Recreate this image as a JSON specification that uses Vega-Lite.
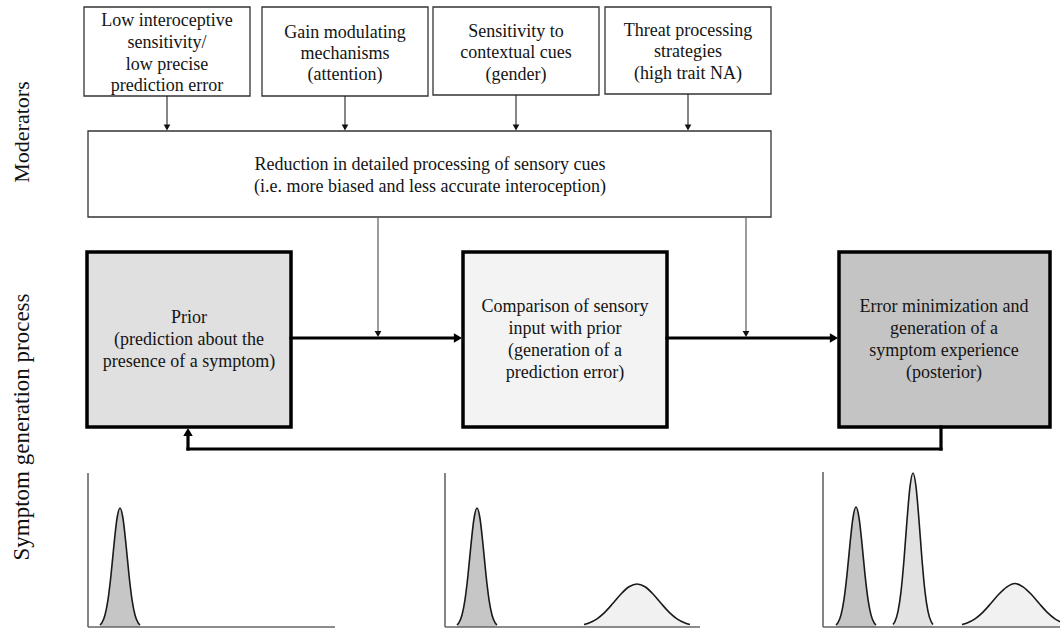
{
  "$schema": "https://vega.github.io/schema/vega-lite/v6.json",
  "width": 1060,
  "height": 629,
  "padding": 0,
  "autosize": {"type": "none"},
  "background": "white",
  "view": {"stroke": null},
  "config": {"mark": {"font": "Liberation Serif"}, "text": {"font": "Liberation Serif"}},
  "datasets": {
    "processBoxes": [
      {"name": "prior", "x": 87, "y": 252, "x2": 291, "y2": 427},
      {"name": "comparison", "x": 463, "y": 252, "x2": 667, "y2": 427},
      {"name": "posterior", "x": 839, "y": 252, "x2": 1050, "y2": 427}
    ],
    "moderatorBoxes": [
      {"name": "m1", "x": 84, "y": 7, "x2": 250, "y2": 96},
      {"name": "m2", "x": 262, "y": 7, "x2": 428, "y2": 96},
      {"name": "m3", "x": 433, "y": 7, "x2": 599, "y2": 95},
      {"name": "m4", "x": 605, "y": 7, "x2": 771, "y2": 94},
      {"name": "reduction", "x": 88, "y": 131, "x2": 771, "y2": 217}
    ],
    "curves": [
      {"curve": "p1", "name": "prior curve", "x": 100, "y": 625},
      {"curve": "p1", "name": "prior curve", "x": 102, "y": 622.6},
      {"curve": "p1", "name": "prior curve", "x": 105, "y": 615},
      {"curve": "p1", "name": "prior curve", "x": 108, "y": 599.6},
      {"curve": "p1", "name": "prior curve", "x": 111, "y": 575},
      {"curve": "p1", "name": "prior curve", "x": 114, "y": 544.5},
      {"curve": "p1", "name": "prior curve", "x": 117, "y": 518.5},
      {"curve": "p1", "name": "prior curve", "x": 120, "y": 508},
      {"curve": "p1", "name": "prior curve", "x": 123, "y": 518.5},
      {"curve": "p1", "name": "prior curve", "x": 126, "y": 544.5},
      {"curve": "p1", "name": "prior curve", "x": 129, "y": 575},
      {"curve": "p1", "name": "prior curve", "x": 132, "y": 599.6},
      {"curve": "p1", "name": "prior curve", "x": 135, "y": 615},
      {"curve": "p1", "name": "prior curve", "x": 138, "y": 622.6},
      {"curve": "p1", "name": "prior curve", "x": 140, "y": 625},
      {"curve": "p2", "name": "prior curve", "x": 457, "y": 625},
      {"curve": "p2", "name": "prior curve", "x": 459, "y": 622.6},
      {"curve": "p2", "name": "prior curve", "x": 462, "y": 615},
      {"curve": "p2", "name": "prior curve", "x": 465, "y": 599.6},
      {"curve": "p2", "name": "prior curve", "x": 468, "y": 575},
      {"curve": "p2", "name": "prior curve", "x": 471, "y": 544.5},
      {"curve": "p2", "name": "prior curve", "x": 474, "y": 518.5},
      {"curve": "p2", "name": "prior curve", "x": 477, "y": 508},
      {"curve": "p2", "name": "prior curve", "x": 480, "y": 518.5},
      {"curve": "p2", "name": "prior curve", "x": 483, "y": 544.5},
      {"curve": "p2", "name": "prior curve", "x": 486, "y": 575},
      {"curve": "p2", "name": "prior curve", "x": 489, "y": 599.6},
      {"curve": "p2", "name": "prior curve", "x": 492, "y": 615},
      {"curve": "p2", "name": "prior curve", "x": 495, "y": 622.6},
      {"curve": "p2", "name": "prior curve", "x": 497, "y": 625},
      {"curve": "p3", "name": "prior curve", "x": 836, "y": 625},
      {"curve": "p3", "name": "prior curve", "x": 838, "y": 622.6},
      {"curve": "p3", "name": "prior curve", "x": 841, "y": 614.9},
      {"curve": "p3", "name": "prior curve", "x": 844, "y": 599.4},
      {"curve": "p3", "name": "prior curve", "x": 847, "y": 574.6},
      {"curve": "p3", "name": "prior curve", "x": 850, "y": 543.8},
      {"curve": "p3", "name": "prior curve", "x": 853, "y": 517.6},
      {"curve": "p3", "name": "prior curve", "x": 856, "y": 507},
      {"curve": "p3", "name": "prior curve", "x": 859, "y": 517.6},
      {"curve": "p3", "name": "prior curve", "x": 862, "y": 543.8},
      {"curve": "p3", "name": "prior curve", "x": 865, "y": 574.6},
      {"curve": "p3", "name": "prior curve", "x": 868, "y": 599.4},
      {"curve": "p3", "name": "prior curve", "x": 871, "y": 614.9},
      {"curve": "p3", "name": "prior curve", "x": 874, "y": 622.6},
      {"curve": "p3", "name": "prior curve", "x": 876, "y": 625},
      {"curve": "t3", "name": "posterior curve", "x": 893, "y": 624.4},
      {"curve": "t3", "name": "posterior curve", "x": 895, "y": 621.3},
      {"curve": "t3", "name": "posterior curve", "x": 898, "y": 611.4},
      {"curve": "t3", "name": "posterior curve", "x": 901, "y": 591.6},
      {"curve": "t3", "name": "posterior curve", "x": 904, "y": 559.7},
      {"curve": "t3", "name": "posterior curve", "x": 907, "y": 520.3},
      {"curve": "t3", "name": "posterior curve", "x": 910, "y": 486.6},
      {"curve": "t3", "name": "posterior curve", "x": 913, "y": 473},
      {"curve": "t3", "name": "posterior curve", "x": 916, "y": 486.6},
      {"curve": "t3", "name": "posterior curve", "x": 919, "y": 520.3},
      {"curve": "t3", "name": "posterior curve", "x": 922, "y": 559.7},
      {"curve": "t3", "name": "posterior curve", "x": 925, "y": 591.6},
      {"curve": "t3", "name": "posterior curve", "x": 928, "y": 611.4},
      {"curve": "t3", "name": "posterior curve", "x": 931, "y": 621.3},
      {"curve": "t3", "name": "posterior curve", "x": 933, "y": 624.4},
      {"curve": "w2", "name": "input curve", "x": 584, "y": 624.6},
      {"curve": "w2", "name": "input curve", "x": 589, "y": 623},
      {"curve": "w2", "name": "input curve", "x": 597, "y": 618.8},
      {"curve": "w2", "name": "input curve", "x": 605, "y": 612.1},
      {"curve": "w2", "name": "input curve", "x": 613, "y": 603.3},
      {"curve": "w2", "name": "input curve", "x": 621, "y": 594},
      {"curve": "w2", "name": "input curve", "x": 629, "y": 586.8},
      {"curve": "w2", "name": "input curve", "x": 637, "y": 584},
      {"curve": "w2", "name": "input curve", "x": 645, "y": 586.8},
      {"curve": "w2", "name": "input curve", "x": 653, "y": 594},
      {"curve": "w2", "name": "input curve", "x": 661, "y": 603.3},
      {"curve": "w2", "name": "input curve", "x": 669, "y": 612.1},
      {"curve": "w2", "name": "input curve", "x": 677, "y": 618.8},
      {"curve": "w2", "name": "input curve", "x": 685, "y": 623},
      {"curve": "w2", "name": "input curve", "x": 690, "y": 624.6},
      {"curve": "w3", "name": "input curve", "x": 962, "y": 624.6},
      {"curve": "w3", "name": "input curve", "x": 967, "y": 623},
      {"curve": "w3", "name": "input curve", "x": 975, "y": 618.8},
      {"curve": "w3", "name": "input curve", "x": 983, "y": 612.1},
      {"curve": "w3", "name": "input curve", "x": 991, "y": 603.3},
      {"curve": "w3", "name": "input curve", "x": 999, "y": 594},
      {"curve": "w3", "name": "input curve", "x": 1007, "y": 586.8},
      {"curve": "w3", "name": "input curve", "x": 1015, "y": 583.5},
      {"curve": "w3", "name": "input curve", "x": 1023, "y": 586.8},
      {"curve": "w3", "name": "input curve", "x": 1031, "y": 594},
      {"curve": "w3", "name": "input curve", "x": 1039, "y": 603.3},
      {"curve": "w3", "name": "input curve", "x": 1047, "y": 612.1},
      {"curve": "w3", "name": "input curve", "x": 1055, "y": 618.8},
      {"curve": "w3", "name": "input curve", "x": 1060, "y": 621.7}
    ],
    "panelAxes": [
      {"x": 88, "y": 473, "x2": 88, "y2": 627},
      {"x": 88, "y": 627, "x2": 335, "y2": 627},
      {"x": 445, "y": 473, "x2": 445, "y2": 627},
      {"x": 445, "y": 627, "x2": 700, "y2": 627},
      {"x": 823, "y": 472, "x2": 823, "y2": 627},
      {"x": 823, "y": 627, "x2": 1060, "y2": 627}
    ],
    "thinLinks": [
      {"x": 167, "y": 96, "x2": 167, "y2": 126},
      {"x": 345, "y": 96, "x2": 345, "y2": 126},
      {"x": 516, "y": 95, "x2": 516, "y2": 126},
      {"x": 688, "y": 94, "x2": 688, "y2": 126}
    ],
    "grayLinks": [
      {"x": 378, "y": 217, "x2": 378, "y2": 332},
      {"x": 746, "y": 217, "x2": 746, "y2": 332}
    ],
    "thickLinks": [
      {"x": 291, "y": 338, "x2": 457, "y2": 338},
      {"x": 667, "y": 338, "x2": 833, "y2": 338},
      {"x": 941, "y": 427, "x2": 941, "y2": 449},
      {"x": 188, "y": 449, "x2": 941, "y2": 449},
      {"x": 188, "y": 434, "x2": 188, "y2": 449}
    ],
    "smallHeads": [
      {"x": 167, "y": 127.5, "dir": "down"},
      {"x": 345, "y": 127.5, "dir": "down"},
      {"x": 516, "y": 127.5, "dir": "down"},
      {"x": 688, "y": 127.5, "dir": "down"},
      {"x": 378, "y": 334, "dir": "down"},
      {"x": 746, "y": 334, "dir": "down"}
    ],
    "bigHeads": [
      {"x": 458, "y": 338, "dir": "right"},
      {"x": 834, "y": 338, "dir": "right"},
      {"x": 188, "y": 432, "dir": "up"}
    ],
    "boxText": [
      {"x": 167, "y": 21, "t": "Low interoceptive"},
      {"x": 167, "y": 43, "t": "sensitivity/"},
      {"x": 167, "y": 65, "t": "low precise"},
      {"x": 167, "y": 86, "t": "prediction error"},
      {"x": 345, "y": 33, "t": "Gain modulating"},
      {"x": 345, "y": 54, "t": "mechanisms"},
      {"x": 345, "y": 75, "t": "(attention)"},
      {"x": 516, "y": 32, "t": "Sensitivity to"},
      {"x": 516, "y": 53, "t": "contextual cues"},
      {"x": 516, "y": 75, "t": "(gender)"},
      {"x": 688, "y": 31, "t": "Threat processing"},
      {"x": 688, "y": 52, "t": "strategies"},
      {"x": 688, "y": 74, "t": "(high trait NA)"},
      {"x": 430, "y": 165, "t": "Reduction in detailed processing of sensory cues"},
      {"x": 430, "y": 187, "t": "(i.e. more biased and less accurate interoception)"},
      {"x": 189, "y": 318, "t": "Prior"},
      {"x": 189, "y": 340, "t": "(prediction about the"},
      {"x": 189, "y": 362, "t": "presence of a symptom)"},
      {"x": 565, "y": 307, "t": "Comparison of sensory"},
      {"x": 565, "y": 329, "t": "input with prior"},
      {"x": 565, "y": 351, "t": "(generation of a"},
      {"x": 565, "y": 373, "t": "prediction error)"},
      {"x": 944, "y": 307, "t": "Error minimization and"},
      {"x": 944, "y": 329, "t": "generation of a"},
      {"x": 944, "y": 351, "t": "symptom experience"},
      {"x": 944, "y": 373, "t": "(posterior)"}
    ],
    "topRowLabel": [
      {"x": 22, "y": 132, "t": "Moderators"}
    ],
    "bottomRowLabel": [
      {"x": 22, "y": 427, "t": "Symptom generation process"}
    ]
  },
  "encoding": {
    "x": {"field": "x", "type": "quantitative", "scale": {"domain": [0, 1060], "nice": false, "zero": false}, "axis": null},
    "y": {"field": "y", "type": "quantitative", "scale": {"domain": [0, 629], "nice": false, "zero": false, "reverse": true}, "axis": null}
  },
  "layer": [
    {
      "data": {"name": "processBoxes"},
      "mark": {"type": "rect", "stroke": "#000000", "strokeWidth": 3.5},
      "encoding": {
        "x2": {"field": "x2"},
        "y2": {"field": "y2"},
        "fill": {"field": "name", "type": "nominal", "scale": {"domain": ["prior", "comparison", "posterior", "prior curve", "input curve", "posterior curve"], "range": ["#e0e0e0", "#f3f3f3", "#c4c4c4", "#c6c6c6", "#f1f1f1", "#e2e2e2"]}, "legend": null}
      }
    },
    {
      "data": {"name": "moderatorBoxes"},
      "mark": {"type": "rect", "stroke": "#333333", "strokeWidth": 1.3, "fill": "#ffffff"},
      "encoding": {"x2": {"field": "x2"}, "y2": {"field": "y2"}}
    },
    {
      "data": {"name": "curves"},
      "mark": {"type": "area", "interpolate": "monotone", "opacity": 1},
      "encoding": {
        "y": {"field": "y", "type": "quantitative", "stack": null, "scale": {"domain": [0, 629], "nice": false, "zero": false, "reverse": true}, "axis": null},
        "y2": {"datum": 627},
        "detail": {"field": "curve"},
        "fill": {"field": "name", "type": "nominal", "scale": {"domain": ["prior", "comparison", "posterior", "prior curve", "input curve", "posterior curve"], "range": ["#e0e0e0", "#f3f3f3", "#c4c4c4", "#c6c6c6", "#f1f1f1", "#e2e2e2"]}, "legend": null}
      }
    },
    {
      "data": {"name": "curves"},
      "mark": {"type": "line", "interpolate": "monotone", "stroke": "#1a1a1a", "strokeWidth": 1.6},
      "encoding": {"detail": {"field": "curve"}}
    },
    {
      "data": {"name": "panelAxes"},
      "mark": {"type": "rule", "stroke": "#666666", "strokeWidth": 1.6},
      "encoding": {"x2": {"field": "x2"}, "y2": {"field": "y2"}}
    },
    {
      "data": {"name": "thinLinks"},
      "mark": {"type": "rule", "stroke": "#222222", "strokeWidth": 1.1},
      "encoding": {"x2": {"field": "x2"}, "y2": {"field": "y2"}}
    },
    {
      "data": {"name": "grayLinks"},
      "mark": {"type": "rule", "stroke": "#666666", "strokeWidth": 1.3},
      "encoding": {"x2": {"field": "x2"}, "y2": {"field": "y2"}}
    },
    {
      "data": {"name": "thickLinks"},
      "mark": {"type": "rule", "stroke": "#000000", "strokeWidth": 3.2, "strokeCap": "square"},
      "encoding": {"x2": {"field": "x2"}, "y2": {"field": "y2"}}
    },
    {
      "data": {"name": "smallHeads"},
      "mark": {"type": "point", "filled": true, "color": "#111111", "size": 45, "opacity": 1},
      "encoding": {
        "shape": {"field": "dir", "type": "nominal", "scale": {"domain": ["down", "right", "up"], "range": ["triangle-down", "triangle-right", "triangle-up"]}, "legend": null}
      }
    },
    {
      "data": {"name": "bigHeads"},
      "mark": {"type": "point", "filled": true, "color": "#000000", "size": 90, "opacity": 1},
      "encoding": {
        "shape": {"field": "dir", "type": "nominal", "scale": {"domain": ["down", "right", "up"], "range": ["triangle-down", "triangle-right", "triangle-up"]}, "legend": null}
      }
    },
    {
      "data": {"name": "boxText"},
      "mark": {"type": "text", "font": "Liberation Serif", "fontSize": 18, "fill": "#141414", "align": "center", "baseline": "middle"},
      "encoding": {"text": {"field": "t", "type": "nominal"}}
    },
    {
      "data": {"name": "topRowLabel"},
      "mark": {"type": "text", "font": "Liberation Serif", "fontSize": 22, "fill": "#111111", "align": "center", "baseline": "middle", "angle": 270},
      "encoding": {"text": {"field": "t", "type": "nominal"}}
    },
    {
      "data": {"name": "bottomRowLabel"},
      "mark": {"type": "text", "font": "Liberation Serif", "fontSize": 23, "fill": "#111111", "align": "center", "baseline": "middle", "angle": 270},
      "encoding": {"text": {"field": "t", "type": "nominal"}}
    }
  ]
}
